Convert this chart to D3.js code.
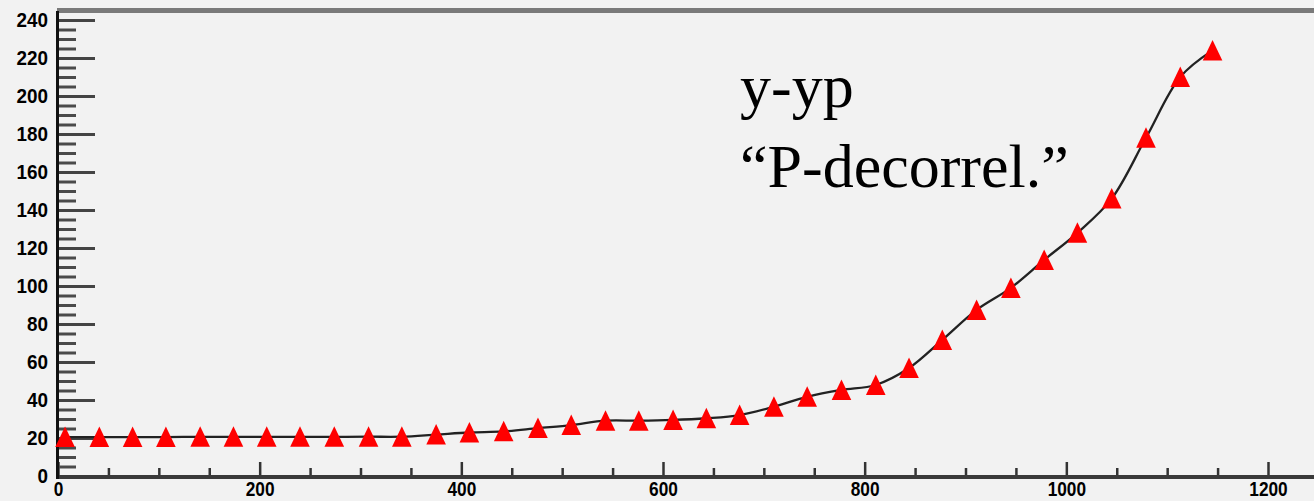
<!DOCTYPE html>
<html>
<head>
<meta charset="utf-8">
<script src="https://cdn.jsdelivr.net/npm/d3@7"></script>
<style>
  html, body { margin: 0; padding: 0; background: #f2f2f2; }
  svg { display: block; }
</style>
</head>
<body>
<svg id="chart" width="1314" height="501"></svg>
<script>
// Measured points (x position, y-yp spread)
const xValues = [7, 41, 74, 107, 141, 174, 207, 240, 274, 308, 341, 375, 408, 442, 476, 509, 543, 576,
  610, 643, 676, 710, 743, 777, 811, 844, 877, 911, 945, 978, 1011, 1045, 1079, 1113, 1145];
const yValues = [20.5, 20.5, 20.5, 20.5, 20.6, 20.6, 20.6, 20.6, 20.6, 20.7, 20.7, 21.8, 22.9, 23.5,
  25.2, 26.8, 29.1, 29.1, 29.5, 30.4, 32.1, 36.5, 41.7, 45.3, 47.9, 56.8, 71.6, 87.4, 99, 113.7,
  128, 146, 178, 210, 224];

// Axis ticks
const xMajorTicks = [0, 200, 400, 600, 800, 1000, 1200];
const xMinorTicks = d3.range(50, 1300, 50).filter(v => v % 200 !== 0);
const yMajorTicks = [0, 20, 40, 60, 80, 100, 120, 140, 160, 180, 200, 220, 240];
const yMinorTicks = d3.range(5, 240, 5).filter(v => v % 20 !== 0);

// Annotation lines
const labelLines = ["y-yp", "\u201CP-decorrel.\u201D"];

const W = 1314, H = 501;
const svg = d3.select("#chart");

const x = d3.scaleLinear().domain([0, 1200]).range([58, 1268]);
const y = d3.scaleLinear().domain([0, 240]).range([476, 20]);

const points = xValues.map((v, i) => ({ x: v, y: yValues[i] }));

// Frame: top border
svg.append("line")
  .attr("x1", 57).attr("x2", W).attr("y1", 10.5).attr("y2", 10.5)
  .attr("stroke", "#7a7a7a").attr("stroke-width", 5);

const tickFont = "'Liberation Sans', Arial, sans-serif";

function styleLabels(sel, perDigit, size) {
  sel.selectAll("text")
    .attr("font-family", tickFont)
    .attr("font-size", size)
    .attr("font-weight", "bold")
    .attr("fill", "#000")
    .each(function () {
      const t = d3.select(this);
      const n = t.text().length;
      if (n) t.attr("textLength", n * perDigit).attr("lengthAdjust", "spacingAndGlyphs");
    });
}

// X axis: ticks pointing up into the frame
const gxMinor = svg.append("g").attr("transform", `translate(0,${y(0)})`)
  .call(d3.axisBottom(x).tickValues(xMinorTicks).tickSize(-8).tickFormat(""));
gxMinor.select(".domain").remove();
gxMinor.selectAll("line").attr("stroke", "#333").attr("stroke-width", 2.5);

const gxMajor = svg.append("g").attr("transform", `translate(0,${y(0)})`)
  .call(d3.axisBottom(x).tickValues(xMajorTicks).tickSize(-14).tickPadding(5.5).tickFormat(d3.format("d")));
gxMajor.select(".domain").remove();
gxMajor.selectAll("line").attr("stroke", "#333").attr("stroke-width", 2.5);
styleLabels(gxMajor, 9.6, 20);

// Y axis: ticks pointing right into the frame
const gyMinor = svg.append("g").attr("transform", "translate(58,0)")
  .call(d3.axisLeft(y).tickValues(yMinorTicks).tickSize(-18).tickFormat(""));
gyMinor.select(".domain").remove();
gyMinor.selectAll("line").attr("stroke", "#4a4a4a").attr("stroke-width", 3);

const gyMajor = svg.append("g").attr("transform", "translate(58,0)")
  .call(d3.axisLeft(y).tickValues(yMajorTicks).tickSize(-37).tickPadding(10).tickFormat(d3.format("d")));
gyMajor.select(".domain").remove();
gyMajor.selectAll("line").attr("stroke", "#444").attr("stroke-width", 3);
styleLabels(gyMajor, 10.5, 21);

// Bottom and left axis lines
svg.append("line")
  .attr("x1", 57).attr("x2", W).attr("y1", 477).attr("y2", 477)
  .attr("stroke", "#3a3a3a").attr("stroke-width", 4);
svg.append("line")
  .attr("x1", 57.5).attr("x2", 57.5).attr("y1", 11).attr("y2", 479)
  .attr("stroke", "#111").attr("stroke-width", 3);

// Smooth curve through the points
const line = d3.line()
  .x(d => x(d.x)).y(d => y(d.y))
  .curve(d3.curveCatmullRom.alpha(0.5));

svg.append("path")
  .datum(points)
  .attr("d", line)
  .attr("fill", "none")
  .attr("stroke", "#222")
  .attr("stroke-width", 2.3);

// Triangle markers, centred on each point
const tri = "M0,-10.5L9.8,10L-9.8,10Z";
svg.append("g").selectAll("path")
  .data(points)
  .join("path")
  .attr("transform", d => `translate(${x(d.x)},${y(d.y)})`)
  .attr("d", tri)
  .attr("fill", "#ff0000");

// Annotation
svg.append("g").selectAll("text")
  .data(labelLines)
  .join("text")
  .attr("x", 740)
  .attr("y", (d, i) => 107 + i * 80)
  .attr("font-family", "'Liberation Serif', 'Times New Roman', serif")
  .attr("font-size", 62)
  .attr("fill", "#000")
  .text(d => d);
</script>
</body>
</html>
